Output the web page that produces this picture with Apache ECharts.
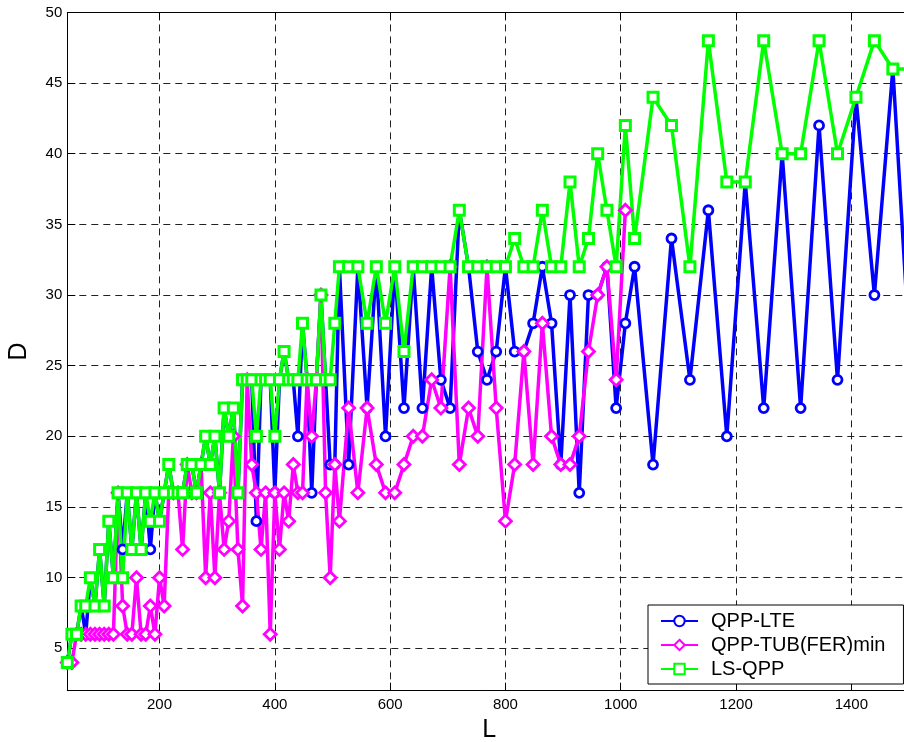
<!DOCTYPE html>
<html><head><meta charset="utf-8">
<script src="https://cdn.jsdelivr.net/npm/echarts@6/dist/echarts.min.js"></script>
<style>html,body{margin:0;padding:0;background:#fff}#c{width:904px;height:742px}</style>
</head><body><div id="c"></div>
<script>
// Block lengths L
const L = [40,48,56,64,72,80,88,96,104,112,120,128,136,144,152,160,168,176,184,192,
  200,208,216,224,232,240,248,256,264,272,280,288,296,304,312,320,328,336,344,352,
  360,368,376,384,392,400,408,416,424,432,440,448,456,464,472,480,488,496,504,512,
  528,544,560,576,592,608,624,640,656,672,688,704,720,736,752,768,784,800,816,832,
  848,864,880,896,912,928,944,960,976,992,1008,1024,
  1056,1088,1120,1152,1184,1216,1248,1280,1312,1344,1376,1408,1440,1472,1504];
// QPP-LTE spread
const qppLte = [4,6,6,8,6,10,8,12,8,14,10,16,12,16,12,16,12,16,12,16,
  14,16,18,16,16,16,18,18,16,18,20,18,20,16,22,20,22,16,24,24,
  24,14,24,24,24,16,24,26,24,24,20,28,24,16,24,30,24,18,18,32,
  18,32,22,32,20,32,22,32,22,32,24,22,36,32,26,24,26,32,26,26,
  28,32,28,18,30,16,30,30,32,22,28,32,
  18,34,24,36,20,38,22,40,22,42,24,44,30,46,24];
// QPP-TUB(FER)min spread (L = 40 ... 1008)
const qppTub = [4,4,6,6,6,6,6,6,6,6,6,16,8,6,6,10,6,6,8,6,
  10,8,16,16,16,12,18,16,16,18,10,16,10,16,12,14,20,12,8,24,
  18,16,12,16,6,16,12,16,14,18,16,16,24,20,24,30,16,10,18,14,
  22,16,22,18,16,16,18,20,20,24,22,32,18,22,20,32,22,14,18,26,
  18,28,20,18,18,20,26,30,32,24,36];
// LS-QPP spread
const lsQpp = [4,6,6,8,8,10,8,12,8,14,10,16,10,16,12,16,12,16,14,16,
  14,16,18,16,16,16,18,18,16,18,20,18,20,16,22,20,22,16,24,24,
  24,20,24,24,24,20,24,26,24,24,24,28,24,24,24,30,24,24,28,32,
  32,32,28,32,28,32,26,32,32,32,32,32,36,32,32,32,32,32,34,32,
  32,36,32,32,38,32,34,40,36,32,42,34,
  44,42,32,48,38,38,48,40,40,48,40,44,48,46,46];

const seriesNames = ['QPP-LTE', 'QPP-TUB(FER)min', 'LS-QPP'];

function pairs(ys) { return ys.map((y, i) => [L[i], y]); }

const FONT = '"Liberation Sans", Arial, Helvetica, sans-serif';
const chart = echarts.init(document.getElementById('c'), null, {renderer: 'canvas'});

const gridDash = {color: '#222', type: [7, 5], width: 1};

chart.setOption({
  animation: false,
  backgroundColor: '#ffffff',
  grid: {left: 67.3, top: 12.4, width: 844, height: 678.3, containLabel: false, outerBoundsMode: 'none'},
  xAxis: [{
    type: 'value', min: 40, max: 1504, splitNumber: 7, position: 'bottom',
    name: 'L', nameLocation: 'middle', nameGap: 24,
    nameTextStyle: {fontFamily: FONT, fontSize: 25, color: '#000'},
    axisLine: {show: true, lineStyle: {color: '#000', width: 1}},
    axisTick: {show: true, inside: true, length: 8, lineStyle: {color: '#000'}},
    axisLabel: {fontFamily: FONT, fontSize: 15, color: '#000', margin: 7,
                showMinLabel: false, showMaxLabel: false, formatter: v => String(v)},
    splitLine: {show: true, lineStyle: gridDash}
  }, {
    type: 'value', min: 40, max: 1504, splitNumber: 7, position: 'top',
    axisLine: {show: true, lineStyle: {color: '#000', width: 1}},
    axisTick: {show: true, inside: true, length: 8, lineStyle: {color: '#000'}},
    axisLabel: {show: false}, splitLine: {show: false}
  }],
  yAxis: [{
    type: 'value', min: 2, max: 50, splitNumber: 10,
    name: 'D', nameLocation: 'middle', nameGap: 36, nameRotate: 90,
    nameTextStyle: {fontFamily: FONT, fontSize: 25, color: '#000'},
    axisLine: {show: true, lineStyle: {color: '#000', width: 1}},
    axisTick: {show: true, inside: true, length: 8, lineStyle: {color: '#000'}},
    axisLabel: {fontFamily: FONT, fontSize: 15, color: '#000', margin: 5, showMinLabel: false,
                formatter: v => String(v)},
    splitLine: {show: true, lineStyle: gridDash}
  }],
  legend: {
    orient: 'vertical', left: 648, top: 605,
    backgroundColor: '#fff', borderColor: '#000', borderWidth: 1, borderRadius: 0,
    padding: [6, 18, 5, 12], itemWidth: 37, itemHeight: 13, itemGap: 4,
    textStyle: {fontFamily: FONT, fontSize: 20, color: '#000', lineHeight: 20, padding: [0, 0, 0, 8]},
    data: seriesNames
  },
  series: [{
    name: seriesNames[0], type: 'line', data: pairs(qppLte), color: '#0000ff',
    symbol: 'circle', symbolSize: 9, showAllSymbol: true,
    lineStyle: {color: '#0000ff', width: 3.5},
    itemStyle: {color: '#ffffff', borderColor: '#0000ff', borderWidth: 2.8}
  }, {
    name: seriesNames[1], type: 'line', data: pairs(qppTub), color: '#ff00ff',
    symbol: 'diamond', symbolSize: 12, showAllSymbol: true,
    lineStyle: {color: '#ff00ff', width: 3.5},
    itemStyle: {color: '#ffffff', borderColor: '#ff00ff', borderWidth: 2.8}
  }, {
    name: seriesNames[2], type: 'line', data: pairs(lsQpp), color: '#00ff00',
    symbol: 'rect', symbolSize: 10, showAllSymbol: true,
    lineStyle: {color: '#00ff00', width: 3.5},
    itemStyle: {color: '#ffffff', borderColor: '#00ff00', borderWidth: 3}
  }]
});
</script>
</body></html>
